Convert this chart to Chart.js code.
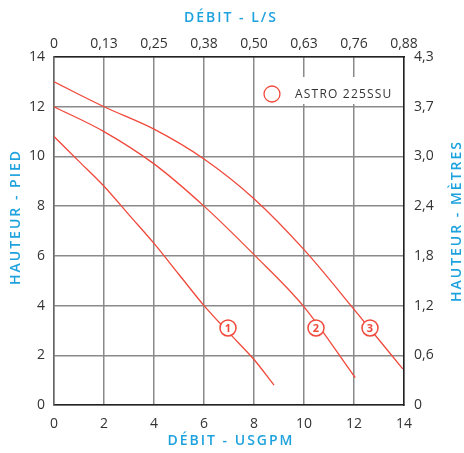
<!DOCTYPE html>
<html>
<head>
<meta charset="utf-8">
<script src="https://cdn.jsdelivr.net/npm/chart.js@4"></script>
<style>
    html, body { margin: 0; padding: 0; background: #fff; }
    #wrap { width: 464px; height: 453px; position: relative; }
</style>
</head>
<body>
<div id="wrap"><canvas id="pumpChart"></canvas></div>
<script>
// Debit in USGPM (x) vs head in feet (y)
const curve1X = [0, 1, 2, 3, 4, 5, 6, 7, 8, 8.8];
const curve1Y = [10.8, 9.8, 8.8, 7.65, 6.5, 5.25, 4.0, 2.9, 1.83, 0.8];
const curve2X = [0, 2, 4, 6, 8, 10, 12.05];
const curve2Y = [12.0, 11.0, 9.7, 8.0, 6.05, 3.95, 1.1];
const curve3X = [0, 2, 4, 6, 8, 10, 12, 13.95];
const curve3Y = [13.0, 12.0, 11.1, 9.9, 8.3, 6.25, 3.85, 1.45];

// numbered markers sitting on each curve
const markerX = [6.96, 10.48, 12.64];
const markerY = [3.1, 3.1, 3.1];
const markerLabels = ['1', '2', '3'];

const gpmTicks = [0, 2, 4, 6, 8, 10, 12, 14];
const lsTicks = ['0', '0,13', '0,25', '0,38', '0,50', '0,63', '0,76', '0,88'];
const piedTicks = [0, 2, 4, 6, 8, 10, 12, 14];
const metresTicks = ['0', '0,6', '1,2', '1,8', '2,4', '3,0', '3,7', '4,3'];

const legendLabel = 'ASTRO 225SSU';

const red = '#f0483a';
const blue = '#1ea2dd';
const font = "'Open Sans', 'Noto Sans', sans-serif";

function toPoints(xs, ys) {
    let pts = [];
    for (let i = 0; i < xs.length; i++) {
        pts.push({ x: xs[i], y: ys[i] });
    }
    return pts;
}

function curve(xs, ys) {
    return {
        data: toPoints(xs, ys),
        borderColor: red,
        borderWidth: 1.3,
        pointRadius: 0,
        fill: false,
        cubicInterpolationMode: 'monotone',
        order: 1
    };
}

// titles, legend and marker numbers
const decorPlugin = {
    id: 'decor',
    afterDraw: function (chart) {
        let ctx = chart.ctx;
        let area = chart.chartArea;
        let cx = (area.left + area.right) / 2;
        let cy = (area.top + area.bottom) / 2 - 14;

        ctx.save();
        ctx.fillStyle = blue;
        ctx.font = "600 14px " + font;
        ctx.letterSpacing = '2px';
        ctx.textAlign = 'center';
        ctx.textBaseline = 'middle';
        ctx.fillText('DÉBIT - L/S', cx + 2, 18);
        ctx.fillText('DÉBIT - USGPM', cx + 2, 441);

        ctx.save();
        ctx.translate(16, cy);
        ctx.rotate(-Math.PI / 2);
        ctx.fillText('HAUTEUR - PIED', 0, 0);
        ctx.restore();

        ctx.save();
        ctx.translate(457, cy + 4);
        ctx.rotate(-Math.PI / 2);
        ctx.fillText('HAUTEUR - MÈTRES', 0, 0);
        ctx.restore();

        // legend box
        ctx.fillStyle = '#fff';
        ctx.fillRect(258, 77, 141, 27);
        ctx.beginPath();
        ctx.arc(272, 94, 8, 0, Math.PI * 2);
        ctx.strokeStyle = red;
        ctx.lineWidth = 1.3;
        ctx.stroke();
        ctx.fillStyle = '#333';
        ctx.font = "12px " + font;
        ctx.letterSpacing = '1.2px';
        ctx.textAlign = 'left';
        ctx.fillText(legendLabel, 295, 95);

        // numbers inside markers
        let meta = chart.getDatasetMeta(0);
        ctx.fillStyle = red;
        ctx.font = "bold 11px " + font;
        ctx.letterSpacing = '0px';
        ctx.textAlign = 'center';
        for (let i = 0; i < meta.data.length; i++) {
            let p = meta.data[i];
            ctx.fillText(markerLabels[i], p.x, p.y + 1);
        }
        ctx.restore();
    }
};

const gridStyle = { color: '#8a8a8a', lineWidth: 1.5, drawTicks: false };
const noGrid = { display: false, drawTicks: false };
const tickFont = { family: font, size: 14 };

new Chart(document.getElementById('pumpChart').getContext('2d'), {
    type: 'line',
    data: {
        datasets: [
            {
                data: toPoints(markerX, markerY),
                showLine: false,
                pointRadius: 8,
                pointHoverRadius: 8,
                pointBackgroundColor: '#fff',
                pointBorderColor: red,
                pointBorderWidth: 1.5,
                order: -1
            },
            curve(curve1X, curve1Y),
            curve(curve2X, curve2Y),
            curve(curve3X, curve3Y)
        ]
    },
    options: {
        responsive: true,
        maintainAspectRatio: false,
        animation: false,
        layout: { padding: 0 },
        plugins: {
            legend: { display: false },
            tooltip: { enabled: false }
        },
        scales: {
            x: {
                type: 'linear',
                position: 'bottom',
                min: 0, max: 14,
                afterBuildTicks: function (s) { s.ticks = gpmTicks.map(v => ({ value: v })); },
                afterFit: function (s) { s.height = 48; },
                grid: gridStyle,
                border: { color: '#222', width: 1.5 },
                ticks: { color: '#333', font: tickFont, padding: 11, maxRotation: 0 }
            },
            x2: {
                type: 'linear',
                position: 'top',
                min: 0, max: 14,
                afterBuildTicks: function (s) { s.ticks = gpmTicks.map(v => ({ value: v })); },
                afterFit: function (s) { s.height = 57; },
                grid: noGrid,
                border: { color: '#222', width: 1.5 },
                ticks: {
                    color: '#333', font: tickFont, padding: 5, maxRotation: 0,
                    callback: function (v, i) { return lsTicks[i]; }
                }
            },
            y: {
                type: 'linear',
                position: 'left',
                min: 0, max: 14,
                afterBuildTicks: function (s) { s.ticks = piedTicks.map(v => ({ value: v })); },
                afterFit: function (s) { s.width = 54; },
                grid: gridStyle,
                border: { color: '#666', width: 1.5 },
                ticks: { color: '#333', font: tickFont, padding: 9 }
            },
            y2: {
                type: 'linear',
                position: 'right',
                min: 0, max: 14,
                afterBuildTicks: function (s) { s.ticks = piedTicks.map(v => ({ value: v })); },
                afterFit: function (s) { s.width = 60; },
                grid: noGrid,
                border: { color: '#222', width: 1.5 },
                ticks: {
                    color: '#333', font: tickFont, padding: 10,
                    callback: function (v, i) { return metresTicks[i]; }
                }
            }
        }
    },
    plugins: [decorPlugin]
});
</script>
</body>
</html>
